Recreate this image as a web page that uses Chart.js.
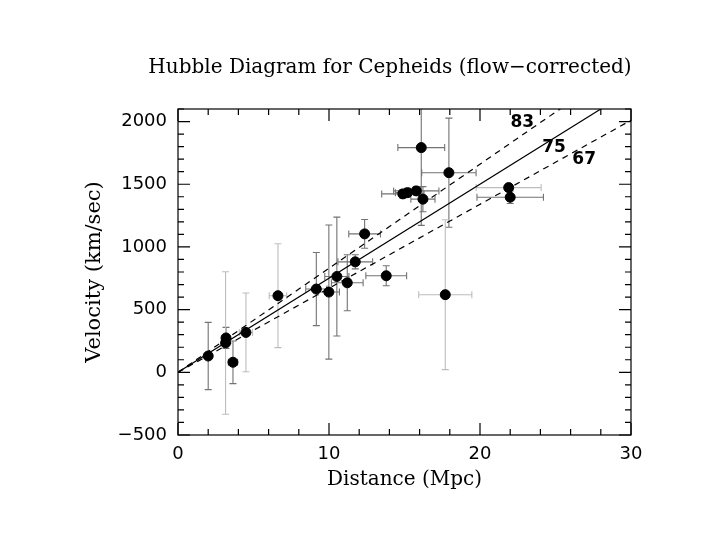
<!DOCTYPE html>
<html><head><meta charset="utf-8">
<script src="https://cdn.jsdelivr.net/npm/chart.js@4.4.0/dist/chart.umd.min.js"></script>
<style>html,body{margin:0;padding:0;background:#fff}canvas{display:block}</style>
</head><body>
<canvas id="c" width="720" height="540"></canvas>
<script>
// ---- data ----
const distance    = [2.0, 3.18, 3.15, 3.64, 4.5, 6.62, 9.16, 9.99, 10.52, 11.21, 11.74, 12.36, 13.79, 14.89, 15.2, 15.78, 16.11, 16.22, 17.94, 17.7, 21.9, 22.0];
const velocity    = [130, 274, 234, 80, 318, 611, 664, 640, 764, 714, 881, 1104, 770, 1423, 1433, 1447, 1792, 1381, 1592, 619, 1473, 1396];
const distanceErr = [0.15, 0.15, 0.15, 0.3, 0.44, 0.58, 0.7, 0.7, 0.8, 1.05, 1.15, 1.05, 1.35, 1.4, 0.8, 1.5, 1.55, 0.8, 1.8, 1.76, 2.15, 2.2];
const velocityErr = [268, 84, 568, 170, 314, 414, 292, 535, 474, 223, 56, 115, 80, 35, 35, 35, 620, 100, 435, 598, 30, 50];
const hubbleConstants = [83, 75, 67];
const hubbleLabelX = [22.8, 24.9, 26.9];
const hubbleLabelY = [1992, 1793, 1693];
const xTickValues = [0, 10, 20, 30];
const yTickValues = [-500, 0, 500, 1000, 1500, 2000];
const chartTitle = 'Hubble Diagram for Cepheids (flow\u2212corrected)';
const xTitle = 'Distance (Mpc)';
const yTitle = 'Velocity (km/sec)';

// style only: which error bars are drawn in the lighter grey
const lightErrorBars = new Set([2, 4, 5, 19, 20]);

const errorBarPlugin = {
  id: 'errorBars',
  beforeDatasetsDraw(chart) {
    const {ctx, chartArea: a, scales: {x, y}} = chart;
    ctx.save();
    ctx.beginPath();
    ctx.rect(a.left, a.top, a.right - a.left, a.bottom - a.top);
    ctx.clip();
    ctx.lineWidth = 1.1;
    const cap = 3.5;
    distance.forEach((d, i) => {
      ctx.strokeStyle = lightErrorBars.has(i) ? '#bdbdbd' : '#737373';
      const px = x.getPixelForValue(d), py = y.getPixelForValue(velocity[i]);
      const x0 = x.getPixelForValue(d - distanceErr[i]), x1 = x.getPixelForValue(d + distanceErr[i]);
      const y0 = y.getPixelForValue(velocity[i] - velocityErr[i]), y1 = y.getPixelForValue(velocity[i] + velocityErr[i]);
      ctx.beginPath();
      ctx.moveTo(x0, py); ctx.lineTo(x1, py);
      ctx.moveTo(x0, py - cap); ctx.lineTo(x0, py + cap);
      ctx.moveTo(x1, py - cap); ctx.lineTo(x1, py + cap);
      ctx.moveTo(px, y0); ctx.lineTo(px, y1);
      ctx.moveTo(px - cap, y0); ctx.lineTo(px + cap, y0);
      ctx.moveTo(px - cap, y1); ctx.lineTo(px + cap, y1);
      ctx.stroke();
    });
    ctx.restore();
  }
};

const framePlugin = {
  id: 'frame',
  afterDraw(chart) {
    const {ctx, chartArea: a, scales: {x, y}} = chart;
    ctx.save();
    ctx.strokeStyle = '#000';
    ctx.lineWidth = 1.2;
    ctx.strokeRect(a.left, a.top, a.right - a.left, a.bottom - a.top);
    ctx.beginPath();
    for (let v = x.min; v <= x.max + 1e-9; v += 2) {
      const len = (Math.abs(v % 10) < 1e-9) ? 12 : 6;
      const px = x.getPixelForValue(v);
      ctx.moveTo(px, a.bottom); ctx.lineTo(px, a.bottom - len);
      ctx.moveTo(px, a.top); ctx.lineTo(px, a.top + len);
    }
    for (let v = -500; v <= y.max + 1e-9; v += 100) {
      const len = (Math.abs(v % 500) < 1e-9) ? 12 : 6;
      const py = y.getPixelForValue(v);
      ctx.moveTo(a.left, py); ctx.lineTo(a.left + len, py);
      ctx.moveTo(a.right, py); ctx.lineTo(a.right - len, py);
    }
    ctx.stroke();
    // labels on the Hubble lines
    ctx.fillStyle = '#000';
    ctx.font = 'bold 17px "DejaVu Sans"';
    ctx.textAlign = 'center';
    ctx.textBaseline = 'middle';
    hubbleConstants.forEach((h, i) => {
      ctx.fillText(String(h), x.getPixelForValue(hubbleLabelX[i]), y.getPixelForValue(hubbleLabelY[i]));
    });
    // chart title
    ctx.font = '20px "DejaVu Serif"';
    ctx.fillText(chartTitle, 390, 68);
    ctx.restore();
  }
};

const lineDatasets = hubbleConstants.map(h => ({
  type: 'line',
  data: [{x: 0, y: 0}, {x: 30, y: h * 30}],
  borderColor: '#000',
  borderWidth: 1.2,
  borderDash: h === 75 ? [] : [6, 5],
  pointRadius: 0,
  fill: false,
  order: 2
}));

new Chart(document.getElementById('c'), {
  type: 'scatter',
  data: {
    datasets: [
      ...lineDatasets,
      {
        type: 'scatter',
        data: distance.map((d, i) => ({x: d, y: velocity[i]})),
        backgroundColor: '#000',
        borderColor: '#000',
        pointRadius: 5,
        order: 1
      }
    ]
  },
  options: {
    responsive: false,
    animation: false,
    layout: {padding: {left: 0, right: 89, top: 109, bottom: 0}},
    plugins: {legend: {display: false}, tooltip: {enabled: false}, title: {display: false}},
    scales: {
      x: {
        type: 'linear', min: 0, max: 30,
        afterBuildTicks: s => { s.ticks = xTickValues.map(v => ({value: v})); },
        afterFit: s => { s.height = 105; },
        grid: {display: false, drawTicks: false},
        border: {display: false},
        ticks: {padding: 9, color: '#000', font: {family: 'DejaVu Sans', size: 18}, maxRotation: 0},
        title: {display: true, text: xTitle, color: '#000', font: {family: 'DejaVu Serif', size: 20}, padding: {top: 0, bottom: 48}}
      },
      y: {
        type: 'linear', min: -500, max: 2100,
        afterBuildTicks: s => { s.ticks = yTickValues.map(v => ({value: v})); },
        afterFit: s => { s.width = 178; },
        grid: {display: false, drawTicks: false},
        border: {display: false},
        ticks: {padding: 11, color: '#000', font: {family: 'DejaVu Sans', size: 18},
          callback: v => (v < 0 ? '\u2212' + Math.abs(v) : String(v))},
        title: {display: true, text: yTitle, color: '#000', font: {family: 'DejaVu Serif', size: 21}, padding: {top: 82, bottom: 0}}
      }
    }
  },
  plugins: [errorBarPlugin, framePlugin]
});
</script>
</body></html>
